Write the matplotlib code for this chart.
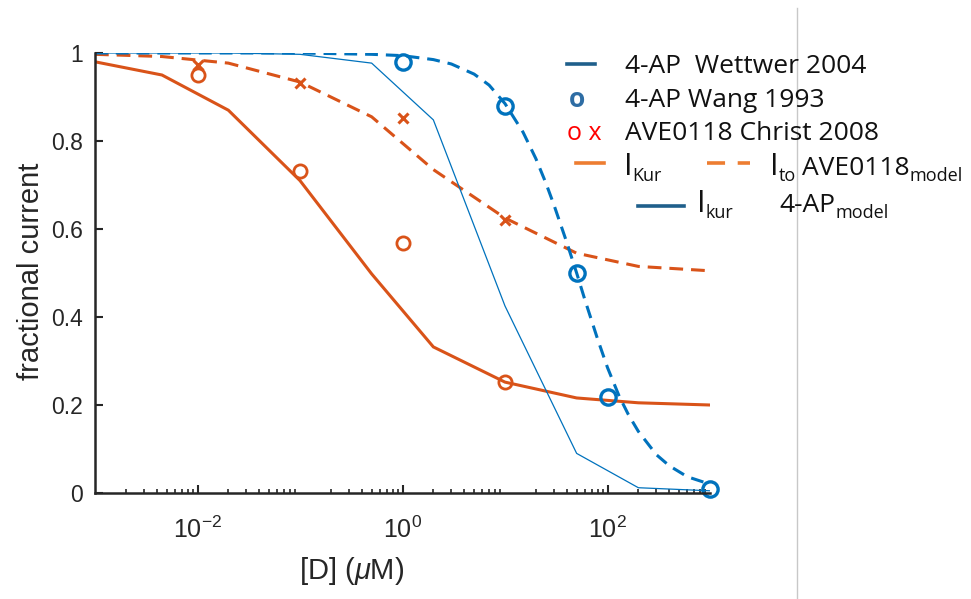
import matplotlib
matplotlib.use('Agg')
import matplotlib.pyplot as plt
from matplotlib.lines import Line2D

plt.rcParams['mathtext.fontset'] = 'custom'
plt.rcParams['mathtext.rm'] = 'Liberation Sans'
plt.rcParams['mathtext.it'] = 'Liberation Sans:italic'
plt.rcParams['font.family'] = ['Liberation Sans', 'DejaVu Sans']

# ---------------- data ----------------
conc_grid = [0.001, 0.0045, 0.02, 0.1, 0.5, 2, 10, 50, 200, 1000]
wettwer_4ap = [1.0, 1.0, 1.0, 0.997, 0.977, 0.848, 0.425, 0.09, 0.012, 0.005]
ikur_ave_model = [0.98, 0.95, 0.87, 0.71, 0.498, 0.332, 0.252, 0.216, 0.205, 0.200]
ito_ave_model = [0.997, 0.992, 0.977, 0.934, 0.855, 0.735, 0.625, 0.545, 0.515, 0.505]

model4ap_conc = [0.001, 0.01, 0.1, 0.5, 1, 2, 3, 5, 7, 10, 15, 20, 25, 30, 40,
                 50, 60, 80, 100, 130, 160, 200, 300, 400, 600, 1000]
model4ap_frac = [1.0, 1.0, 1.0, 0.997, 0.994, 0.985, 0.975, 0.952, 0.927, 0.885,
                 0.82, 0.76, 0.705, 0.655, 0.57, 0.50, 0.44, 0.35, 0.285, 0.22,
                 0.178, 0.14, 0.087, 0.062, 0.037, 0.02]

wang_conc = [1, 10, 50, 100, 1000]
wang_frac = [0.98, 0.88, 0.50, 0.218, 0.01]

christ_conc = [0.01, 0.1, 1, 10]
christ_ikur = [0.95, 0.732, 0.568, 0.252]
christ_ito = [0.973, 0.932, 0.852, 0.62]

xtick_vals = [1e-2, 1e0, 1e2]
xtick_labels = [r'$10^{-2}$', r'$10^{0}$', r'$10^{2}$']
ytick_vals = [0, 0.2, 0.4, 0.6, 0.8, 1.0]
ytick_labels = ['0', '0.2', '0.4', '0.6', '0.8', '1']

ORANGE = '#D95319'
BLUE = '#0072BD'
AXC = '#262626'

W, H = 971, 599
fig = plt.figure(figsize=(W / 100, H / 100), dpi=100)
ax = fig.add_axes([95 / W, 1 - 493 / H, (710 - 95) / W, 440 / H])

ax.plot(conc_grid, ikur_ave_model, color=ORANGE, lw=2.2, solid_joinstyle='miter')
ax.plot(conc_grid, ito_ave_model, color=ORANGE, lw=2.2, dashes=(4.5, 2.6))
ax.plot(conc_grid, wettwer_4ap, color=BLUE, lw=0.9)
ax.plot(model4ap_conc, model4ap_frac, color=BLUE, lw=2.2, dashes=(4.2, 2.6))
ax.plot(christ_conc, christ_ikur, 'o', ms=9.5, mfc='none', mec=ORANGE, mew=2.0)
ax.plot(christ_conc, christ_ito, 'x', ms=6.5, mec=ORANGE, mew=2.2)
ax.plot(wang_conc, wang_frac, 'o', ms=11, mfc='none', mec=BLUE, mew=2.4, clip_on=False)

ax.set_xscale('log')
ax.set_xlim(1e-3, 1e3)
ax.set_ylim(0, 1)
ax.set_xticks(xtick_vals)
ax.set_xticklabels(xtick_labels, fontsize=18, color=AXC)
ax.set_yticks(ytick_vals)
ax.set_yticklabels(ytick_labels, fontsize=16.5, color=AXC)
ax.tick_params(axis='both', which='major', direction='in', length=6, width=1.5, color=AXC)
ax.tick_params(axis='x', which='major', pad=17)
ax.tick_params(axis='y', which='major', pad=9)
ax.tick_params(axis='x', which='minor', direction='in', length=3, width=1.2, color=AXC)
ax.tick_params(axis='y', which='minor', left=False)
for s in ['top', 'right']:
    ax.spines[s].set_visible(False)
for s in ['left', 'bottom']:
    ax.spines[s].set_linewidth(1.8)
    ax.spines[s].set_color(AXC)
ax.set_facecolor('none')

fig.text(352 / W, 1 - 571 / H, r'[D] ($\mu$M)', fontsize=21, color=AXC, ha='center', va='center')
fig.text(31 / W, 1 - 271 / H, 'fractional current', fontsize=21, color=AXC,
         ha='center', va='center', rotation=90)

# separator line
fig.add_artist(Line2D([797 / W, 797 / W], [0, 1 - 8 / H], transform=fig.transFigure,
                      color='#c8c8c8', lw=1.0))

# ---------------- hand-made legend ----------------
LEG_FONT = ['Open Sans', 'DejaVu Sans']
TXT = '#111111'
renderer = fig.canvas.get_renderer()


def rich(x, y, parts):
    for s, size, dy in parts:
        t = fig.text(x / W, 1 - (y + dy) / H, s, fontsize=size, family=LEG_FONT,
                     color=TXT, ha='left', va='baseline')
        x += t.get_window_extent(renderer).width


def hline(x0, x1, y, color, dashed=False):
    ln = Line2D([x0 / W, x1 / W], [1 - y / H, 1 - y / H], transform=fig.transFigure,
                color=color, lw=2.6)
    if dashed:
        ln.set_dashes((5, 3.5))
    fig.add_artist(ln)


BIG, SMALL = 19, 13
hline(567, 595, 64, '#1F5F8B')
rich(625, 73, [('4-AP  Wettwer 2004', BIG, 0)])
fig.text(577 / W, 1 - 107 / H, 'o', fontsize=BIG, family=LEG_FONT, fontweight='bold',
         color='#2E6DA4', ha='center', va='baseline')
rich(625, 107, [('4-AP Wang 1993', BIG, 0)])
fig.text(567 / W, 1 - 140 / H, 'o x', fontsize=BIG - 1, family=LEG_FONT, color='#FF0000',
         ha='left', va='baseline')
rich(625, 140, [('AVE0118 Christ 2008', BIG, 0)])
hline(576, 604, 163, '#ED7D31')
rich(624, 175, [('I', BIG + 3, 0), ('Kur', SMALL, 6)])
hline(707, 750, 163, '#ED7D31', dashed=True)
rich(770, 175, [('I', BIG + 3, 0), ('to', SMALL, 6)])
rich(802, 175, [('AVE0118', BIG, 0), ('model', SMALL, 6)])
hline(638, 684, 206, '#1F5F8B')
rich(697, 212, [('I', BIG + 3, 0), ('kur', SMALL, 6)])
rich(779, 212, [('4-AP', BIG, 0), ('model', SMALL, 6)])

fig.savefig('out.png', dpi=100)
